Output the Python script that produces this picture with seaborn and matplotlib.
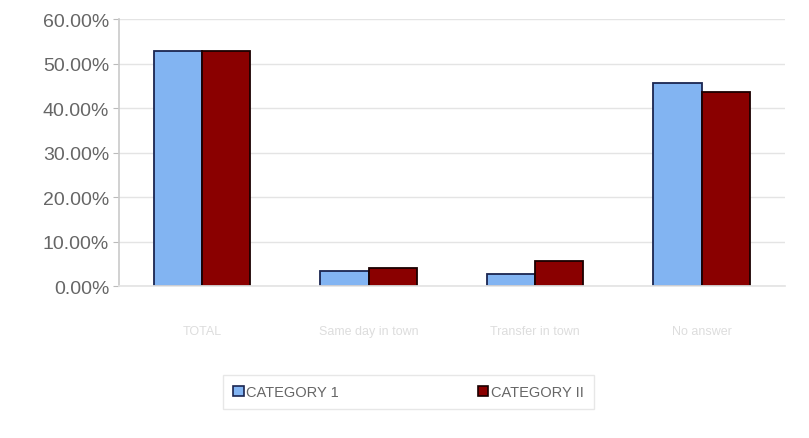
import matplotlib
matplotlib.use("Agg")
import matplotlib.pyplot as plt
import seaborn as sns
import pandas as pd
from matplotlib.ticker import FuncFormatter
from matplotlib.patches import Patch

categories = ["TOTAL", "Same day in town", "Transfer in town", "No answer"]
series_names = ["CATEGORY 1", "CATEGORY II"]
cat1_values = [52.8, 3.4, 2.7, 45.6]
cat2_values = [52.8, 4.0, 5.6, 43.6]
y_ticks = [0, 10, 20, 30, 40, 50, 60]

df = pd.DataFrame({
    "category": categories * 2,
    "series": [series_names[0]] * len(categories) + [series_names[1]] * len(categories),
    "value": cat1_values + cat2_values,
})

sns.set_theme(style="white")
plt.rcParams["font.family"] = ["Liberation Sans", "DejaVu Sans"]

fig = plt.figure(figsize=(8.09, 4.39), dpi=100)
ax = fig.add_axes([0.147, 0.346, 0.823, 0.608])

palette = {series_names[0]: "#82b4f2", series_names[1]: "#8a0000"}
sns.barplot(data=df, x="category", y="value", hue="series", palette=palette,
            width=0.58, ax=ax, saturation=1, legend=False)

edges = ["#1a2550", "#1a0000"]
for i, cont in enumerate(ax.containers):
    for p in cont:
        p.set_edgecolor(edges[i])
        p.set_linewidth(1.3)

ax.set_ylim(0, 60)
ax.set_xlim(-0.5, 3.5)
ax.set_yticks(y_ticks)
ax.yaxis.set_major_formatter(FuncFormatter(lambda v, _: f"{v:.2f}%"))
ax.tick_params(axis="y", labelsize=14, colors="#bbbbbb", length=4, width=0.8,
               direction="out", pad=3, left=True)
ax.tick_params(axis="y", labelcolor="#666666")
ax.tick_params(axis="x", labelsize=9, labelcolor="#dddddd", length=0, pad=28)
ax.set_xlabel("")
ax.set_ylabel("")
ax.yaxis.grid(True, color="#e4e4e4", linewidth=1)
ax.set_axisbelow(True)
for s in ["top", "right"]:
    ax.spines[s].set_visible(False)
ax.spines["left"].set_color("#cccccc")
ax.spines["bottom"].set_color("#e4e4e4")

handles = [Patch(facecolor=palette[n], edgecolor=edges[i], linewidth=1.2, label=n)
           for i, n in enumerate(series_names)]
leg = fig.legend(handles=handles, loc="center", bbox_to_anchor=(0.505, 0.105), ncol=2,
                 frameon=True, fontsize=10.5, columnspacing=9.5, handlelength=0.7,
                 handleheight=0.7, handletextpad=0.2, borderpad=0.7, fancybox=False,
                 borderaxespad=0)
leg.get_frame().set_edgecolor("#e2e2e2")
leg.get_frame().set_linewidth(1)
for t in leg.get_texts():
    t.set_color("#666666")

fig.savefig("out.png", dpi=100, facecolor="white")
